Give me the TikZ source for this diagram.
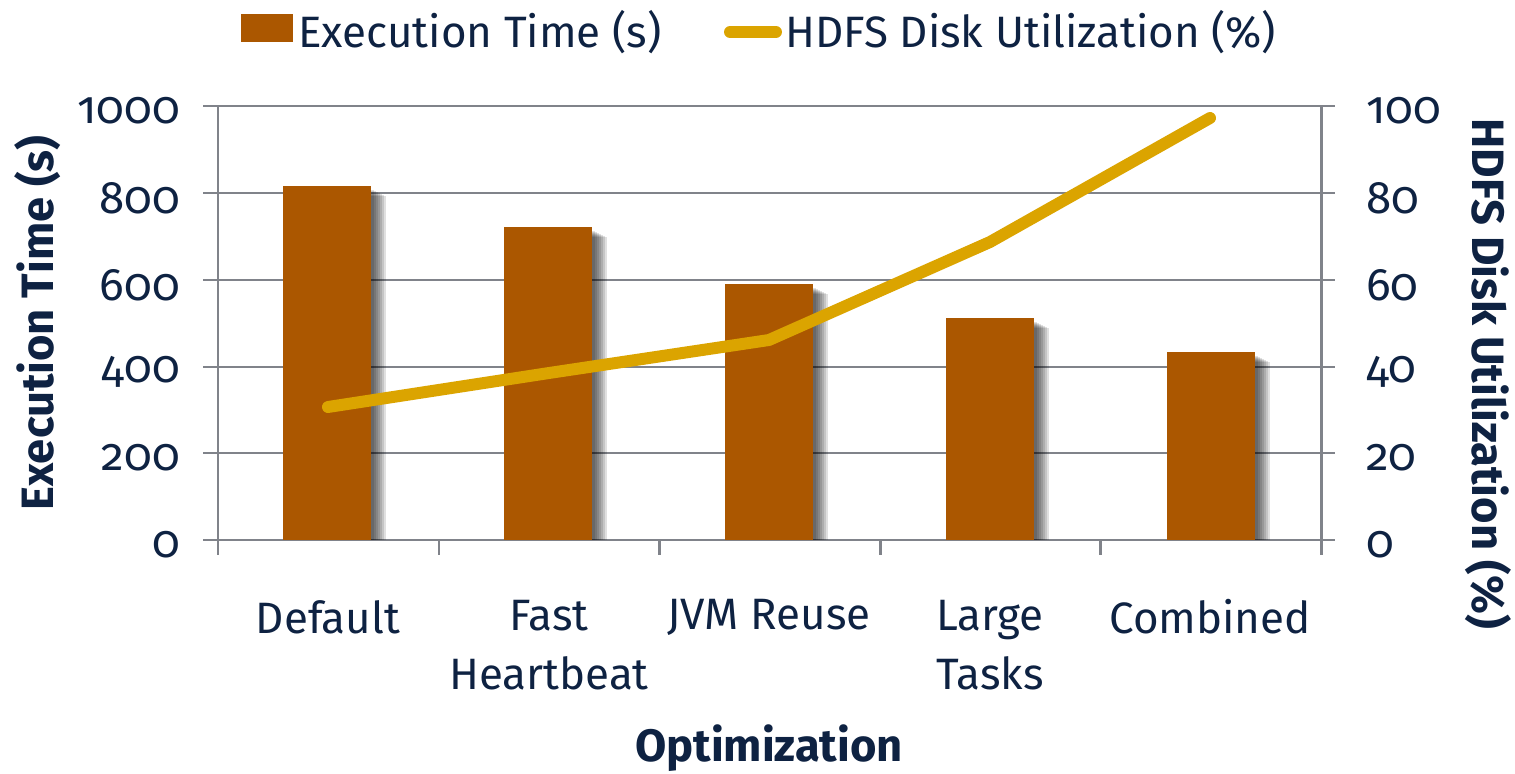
\documentclass[tikz,border=0pt]{standalone}
\usepackage{fontspec}
\setmainfont{Fira Sans}[Numbers=OldStyle]
\definecolor{txt}{HTML}{0E2242}
\definecolor{barc}{HTML}{AB5700}
\definecolor{linec}{HTML}{DBA400}
\definecolor{gridc}{HTML}{80838A}
\tikzset{
  grid line/.style={draw=gridc, line width=1.7pt},
  bar/.style={fill=barc, draw=none},
  series/.style={draw=linec, line width=6.8pt, line cap=round, line join=round},
  tick lab/.style={text=txt, font=\fontsize{26}{30}\selectfont},
  cat lab/.style={text=txt, font=\fontsize{25}{33.5}\selectfont, align=center},
  ax title/.style={text=txt, font=\bfseries\fontsize{25.8}{30}\selectfont},
  leg lab/.style={text=txt, font=\fontsize{25}{29}\selectfont, anchor=west, inner sep=0pt},
}
\begin{document}
\begin{tikzpicture}[x=0.02cm, y=-0.02cm]
\useasboundingbox (0,0) rectangle (1515,774);
% gridlines and axes
\foreach \yy in {106,193,280,367,453,540}
  \draw[grid line] (203,\yy) -- (1335,\yy);
\draw[grid line] (218,106) -- (218,555);
\draw[grid line] (1321,106) -- (1321,555);
\foreach \xx in {439,659,880,1100}
  \draw[grid line] (\xx,540) -- (\xx,555);
% tick labels
\foreach \yy/\lab in {106/1000,193/800,280/600,367/400,453/200,540/0}
  \node[tick lab, anchor=east] at (186,\yy+5) {\lab};
\foreach \yy/\lab in {106/100,193/80,280/60,367/40,453/20,540/0}
  \node[tick lab, anchor=west] at (1360,\yy+5) {\lab};
% bars with shadows
\foreach \cx/\top [count=\i] in {327/186,548/227,769/284,990/318,1211/352}{
  \foreach \k in {1,...,7}
    \fill[black, opacity=0.12] (\cx-44+\k,\top+3+\k) rectangle (\cx+45+2*\k,540);
  \fill[bar] (\cx-44,\top) rectangle (\cx+44,540);
  \coordinate (b\i) at (\cx,\top);
}
% line series
\coordinate (p1) at (328,407);
\coordinate (p2) at (549,373);
\coordinate (p3) at (769,340);
\coordinate (p4) at (990,242);
\coordinate (p5) at (1210,118);
\draw[series] (p1) -- (p2) -- (p3) -- (p4) -- (p5);
% category labels
\node[cat lab] (c1) at (328,617) {Default};
\node[cat lab, anchor=north] (c2) at (549,594) {Fast\\Heartbeat};
\node[cat lab] (c3) at (769,617) {JVM Reuse};
\node[cat lab, anchor=north] (c4) at (990,594) {Large\\Tasks};
\node[cat lab] (c5) at (1210,617) {Combined};
% axis titles
\node[ax title] (xt) at (769,748) {Optimization};
\node[ax title, rotate=90] (yl) at (38,323) {Execution Time (s)};
\node[ax title, rotate=-90] (yr) at (1488,374) {HDFS Disk Utilization (\%)};
% legend
\fill[barc] (241,14) rectangle (293,42);
\node[leg lab] (l1) at (298,32) {Execution Time (s)};
\coordinate (la) at (730,32);
\coordinate (lb) at (776,32);
\draw[series] (la) -- (lb);
\node[leg lab] (l2) at (785,32) {HDFS Disk Utilization (\%)};
\end{tikzpicture}
\end{document}
